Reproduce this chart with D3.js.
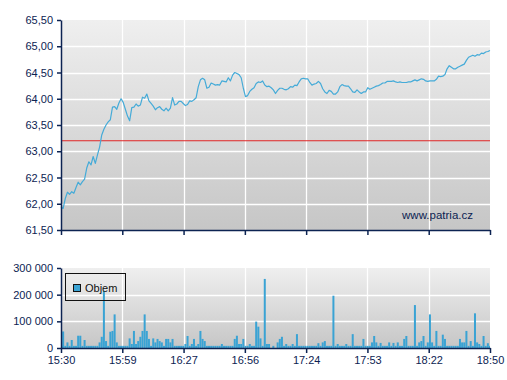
<!DOCTYPE html>
<html>
<head>
<meta charset="utf-8">
<script src="https://cdn.jsdelivr.net/npm/d3@7"></script>
<style>
html,body{margin:0;padding:0;background:#fff;}
svg text{font-family:"Liberation Sans",Arial,sans-serif;}
</style>
</head>
<body>
<svg id="chart" width="507" height="380"></svg>
<script>
// ---- data ----
const startTime = "15:30";
const endTime = "18:50";
const timeTickLabels = ["15:30","15:59","16:27","16:56","17:24","17:53","18:22","18:50"];
const priceTicks = [61.5,62,62.5,63,63.5,64,64.5,65,65.5];
const volumeTicks = [0,100000,200000,300000];
const referenceLevel = 63.2;
const watermark = "www.patria.cz";
const volumeLabel = "Objem";
// one value per minute from 15:30 to 18:50
const prices = [
61.94,61.91,62.10,62.22,62.18,62.23,62.20,62.31,62.41,62.36,
62.42,62.47,62.68,62.80,62.74,62.90,62.77,62.93,63.08,63.31,
63.42,63.50,63.56,63.60,63.84,63.85,63.80,63.92,64.00,63.93,
63.80,63.67,63.58,63.83,63.84,63.90,63.86,63.88,64.03,64.01,
64.09,63.96,63.91,63.86,63.79,63.83,63.85,63.80,63.77,63.82,
63.77,63.82,64.02,63.88,63.90,63.95,63.95,63.91,63.87,63.89,
63.96,63.95,63.98,64.02,64.23,64.36,64.39,64.36,64.20,64.22,
64.30,64.28,64.26,64.27,64.26,64.34,64.33,64.32,64.40,64.34,
64.45,64.50,64.48,64.46,64.40,64.20,64.04,64.06,64.14,64.18,
64.21,64.29,64.32,64.31,64.34,64.26,64.23,64.24,64.21,64.17,
64.10,64.16,64.20,64.20,64.18,64.17,64.19,64.23,64.22,64.26,
64.25,64.32,64.38,64.39,64.38,64.38,64.31,64.26,64.28,64.29,
64.33,64.29,64.19,64.13,64.10,64.16,64.14,64.09,64.09,64.13,
64.23,64.27,64.25,64.24,64.24,64.19,64.13,64.12,64.17,64.13,
64.10,64.13,64.13,64.21,64.18,64.20,64.22,64.24,64.25,64.27,
64.30,64.30,64.33,64.33,64.33,64.34,64.32,64.31,64.32,64.31,
64.31,64.31,64.32,64.32,64.34,64.36,64.34,64.36,64.38,64.37,
64.34,64.33,64.34,64.34,64.34,64.37,64.43,64.42,64.43,64.46,
64.57,64.63,64.60,64.57,64.57,64.60,64.62,64.64,64.66,64.73,
64.79,64.81,64.83,64.81,64.84,64.83,64.87,64.86,64.89,64.90,
64.92];
const volumes = [
8000,62000,8000,21000,8000,30000,8000,8000,46000,46000,
8000,30000,8000,8000,8000,8000,8000,8000,21000,42000,
214000,26000,8000,61000,64000,126000,21000,8000,8000,8000,
8000,8000,36000,15000,64000,15000,26000,42000,64000,126000,
64000,34000,8000,36000,21000,34000,26000,21000,8000,34000,
34000,21000,34000,8000,8000,8000,8000,8000,15000,45000,
8000,15000,34000,8000,15000,64000,34000,26000,8000,8000,
8000,8000,8000,8000,8000,15000,8000,8000,8000,8000,
8000,34000,46000,15000,15000,34000,8000,8000,15000,8000,
8000,99000,80000,36000,8000,259000,15000,15000,0,8000,
0,21000,34000,42000,8000,15000,8000,8000,15000,8000,
52000,8000,8000,8000,8000,8000,8000,8000,8000,8000,
18000,8000,21000,26000,8000,8000,8000,196000,8000,15000,
8000,8000,8000,15000,8000,8000,52000,8000,8000,8000,
8000,34000,8000,8000,8000,21000,45000,21000,8000,19000,
8000,8000,8000,21000,8000,19000,8000,21000,8000,8000,
34000,45000,8000,8000,8000,161000,8000,21000,26000,45000,
8000,21000,126000,21000,8000,64000,8000,8000,50000,34000,
8000,8000,8000,8000,8000,8000,34000,21000,21000,64000,
8000,26000,8000,130000,21000,15000,8000,45000,8000,18000,
8000];

// ---- chart ----
const svg = d3.select("#chart");
const navy = "#0c2352";
const lineBlue = "#45abd8";
const barBlue = "#3aa3d4";
const L = 61, R = 490;
const P = {top: 20, bottom: 230};
const V = {top: 268, bottom: 348};

const parseT = d3.timeParse("%H:%M");
const t0 = parseT(startTime), t1 = parseT(endTime);
const x = d3.scaleTime().domain([t0, t1]).range([L, R]);
const xTicks = d3.scalePoint().domain(timeTickLabels).range([L, R]);
const y = d3.scaleLinear().domain([priceTicks[0], priceTicks[priceTicks.length-1]]).range([P.bottom, P.top]);
const yv = d3.scaleLinear().domain([volumeTicks[0], volumeTicks[volumeTicks.length-1]]).range([V.bottom, V.top]);

const loc = d3.formatLocale({decimal: ",", thousands: " ", grouping: [3], currency: ["", ""]});
const fPrice = loc.format(".2f");
const fVol = loc.format(",d");

const priceData = prices.map((v, i) => ({t: d3.timeMinute.offset(t0, i), v}));
const volData = volumes.map((v, i) => ({t: d3.timeMinute.offset(t0, i), v}));

const defs = svg.append("defs");
function grad(id) {
  const g = defs.append("linearGradient").attr("id", id).attr("x1", 0).attr("y1", 0).attr("x2", 0).attr("y2", 1);
  g.append("stop").attr("offset", "0%").attr("stop-color", "#efefef");
  g.append("stop").attr("offset", "100%").attr("stop-color", "#c6c6c6");
}
grad("gp"); grad("gv");

// backgrounds
svg.append("rect").attr("x", L).attr("y", P.top).attr("width", R - L).attr("height", P.bottom - P.top).attr("fill", "url(#gp)");
svg.append("rect").attr("x", L).attr("y", V.top).attr("width", R - L).attr("height", V.bottom - V.top).attr("fill", "url(#gv)");

// grid - price panel
const gP = svg.append("g");
gP.selectAll("line.h").data(priceTicks.slice(1, -1)).join("line")
  .attr("x1", L).attr("x2", R).attr("y1", d => Math.round(y(d)) + 0.5).attr("y2", d => Math.round(y(d)) + 0.5)
  .attr("stroke", "#fff").attr("stroke-width", 1.3);
gP.selectAll("line.v").data(timeTickLabels.slice(1, -1)).join("line")
  .attr("x1", d => Math.round(xTicks(d)) + 0.5).attr("x2", d => Math.round(xTicks(d)) + 0.5)
  .attr("y1", P.top).attr("y2", P.bottom)
  .attr("stroke", "#fff").attr("stroke-width", 1.3);

// grid - volume panel
const gV = svg.append("g");
gV.selectAll("line.h").data(volumeTicks.slice(1, -1)).join("line")
  .attr("x1", L).attr("x2", R).attr("y1", d => Math.round(yv(d)) + 0.5).attr("y2", d => Math.round(yv(d)) + 0.5)
  .attr("stroke", "#fff").attr("stroke-width", 1.3);
gV.selectAll("line.v").data(timeTickLabels.slice(1, -1)).join("line")
  .attr("x1", d => Math.round(xTicks(d)) + 0.5).attr("x2", d => Math.round(xTicks(d)) + 0.5)
  .attr("y1", V.top).attr("y2", V.bottom)
  .attr("stroke", "#fff").attr("stroke-width", 1.3);

// reference level
svg.append("line").attr("x1", L).attr("x2", R)
  .attr("y1", y(referenceLevel)).attr("y2", y(referenceLevel))
  .attr("stroke", "#e02424").attr("stroke-width", 1.2);

// watermark
svg.append("text").attr("x", 473).attr("y", 219).attr("text-anchor", "end")
  .attr("font-size", 11.5).attr("fill", navy).text(watermark);

// price line
svg.append("path").datum(priceData)
  .attr("fill", "none").attr("stroke", lineBlue).attr("stroke-width", 1.2)
  .attr("stroke-linejoin", "round")
  .attr("d", d3.line().x(d => x(d.t)).y(d => y(d.v)));

// volume bars
svg.append("g").selectAll("rect").data(volData.filter(d => d.v > 0)).join("rect")
  .attr("x", d => Math.max(L + 1, x(d.t) - 1))
  .attr("width", d => Math.min(2, R - Math.max(L + 1, x(d.t) - 1)))
  .attr("y", d => yv(d.v)).attr("height", d => yv(0) - yv(d.v))
  .attr("fill", barBlue);

// axes
function styleAxis(g) {
  g.selectAll("path.domain").attr("stroke", navy).attr("stroke-width", 1.5);
  g.selectAll(".tick line").attr("stroke", navy).attr("stroke-width", 1.5);
  g.selectAll(".tick text").attr("fill", navy).attr("font-size", 11)
    .attr("font-family", "'Liberation Sans', Arial, sans-serif");
}
const yAxisG = svg.append("g").attr("transform", `translate(${L},0)`)
  .call(d3.axisLeft(y).tickValues(priceTicks).tickFormat(fPrice).tickSize(4).tickPadding(4).tickSizeOuter(0));
styleAxis(yAxisG);
const xAxisTop = svg.append("g").attr("transform", `translate(0,${P.bottom})`)
  .call(d3.axisBottom(xTicks).tickSize(5).tickFormat("").tickSizeOuter(0));
styleAxis(xAxisTop);

const yvAxisG = svg.append("g").attr("transform", `translate(${L},0)`)
  .call(d3.axisLeft(yv).tickValues(volumeTicks).tickFormat(fVol).tickSize(4).tickPadding(4).tickSizeOuter(0));
styleAxis(yvAxisG);
const xAxisBot = svg.append("g").attr("transform", `translate(0,${V.bottom})`)
  .call(d3.axisBottom(xTicks).tickSize(5).tickPadding(3).tickSizeOuter(0));
styleAxis(xAxisBot);

// legend
const lg = svg.append("g");
lg.append("rect").attr("x", 65.5).attr("y", 273.5).attr("width", 60).attr("height", 27)
  .attr("fill", "none").attr("stroke", "#111").attr("stroke-width", 1);
lg.append("rect").attr("x", 73.5).attr("y", 284.5).attr("width", 7).attr("height", 7)
  .attr("fill", barBlue).attr("stroke", "#111").attr("stroke-width", 1);
lg.append("text").attr("x", 85).attr("y", 292).attr("font-size", 11).attr("fill", "#111").text(volumeLabel);
</script>
</body>
</html>
